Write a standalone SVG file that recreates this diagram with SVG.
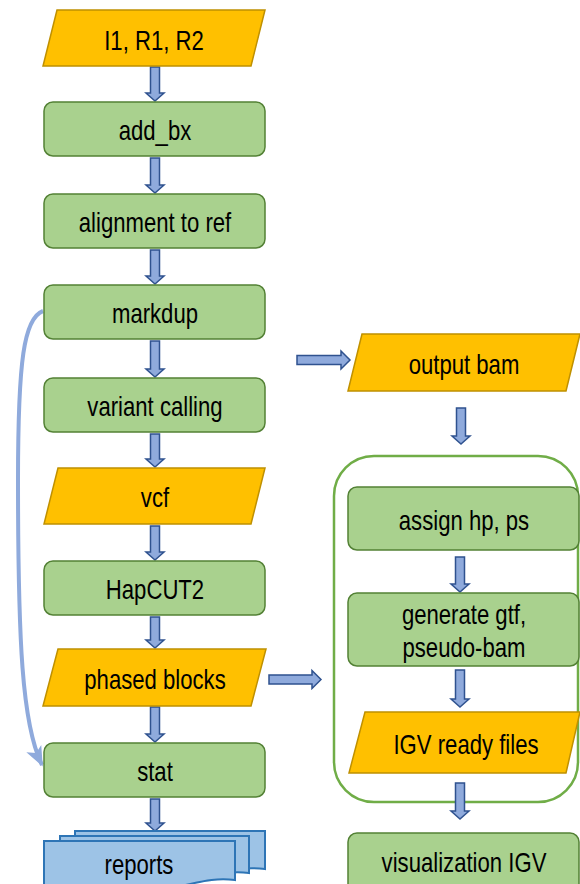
<svg xmlns="http://www.w3.org/2000/svg" width="580" height="884" viewBox="0 0 580 884">
<defs>
<style>
.io{fill:#ffc000;stroke:#bf9000;stroke-width:1.5}
.proc{fill:#a9d18e;stroke:#538135;stroke-width:1.5}
.doc{fill:#9dc3e6;stroke:#2e75b6;stroke-width:2}
.blk{fill:#8faadc;stroke:#2f528f;stroke-width:1.5;stroke-linejoin:miter}
.lbl{font-family:"Liberation Sans",Arial,sans-serif;font-size:27px;fill:#000;text-anchor:middle}
.cont{fill:none;stroke:#70ad47;stroke-width:2.5}
</style>
<marker id="ah" viewBox="0 0 12 10" refX="11" refY="5" markerWidth="5" markerHeight="5" orient="auto" markerUnits="strokeWidth">
<path d="M0,0 L12,5 L0,10 L3,5 Z" fill="#8faadc"/>
</marker>
</defs>
<rect width="580" height="884" fill="#fff"/>

<g id="container"><rect class="cont" x="334" y="456" width="244" height="346" rx="40"/></g>

<g id="connectors">
<path class="blk" d="M150.5,67 H159.5 V93 H164 L155,101 L146,93 H150.5 Z"/>
<path class="blk" d="M150.5,158 H159.5 V185 H164 L155,193 L146,185 H150.5 Z"/>
<path class="blk" d="M150.5,250 H159.5 V276 H164 L155,284 L146,276 H150.5 Z"/>
<path class="blk" d="M150.5,341 H159.5 V369 H164 L155,377 L146,369 H150.5 Z"/>
<path class="blk" d="M150.5,434 H159.5 V459 H164 L155,467 L146,459 H150.5 Z"/>
<path class="blk" d="M150.5,526 H159.5 V552 H164 L155,560 L146,552 H150.5 Z"/>
<path class="blk" d="M150.5,617 H159.5 V640 H164 L155,648 L146,640 H150.5 Z"/>
<path class="blk" d="M150.5,707 H159.5 V734 H164 L155,742 L146,734 H150.5 Z"/>
<path class="blk" d="M150.5,799 H159.5 V823 H164 L155,831 L146,823 H150.5 Z"/>
<path class="blk" d="M297,355.5 H341 V351 L350,360 L341,369 V364.5 H297 Z"/>
<path class="blk" d="M269,675 H312 V670.5 L321,679.5 L312,688.5 V684 H269 Z"/>
<path class="blk" d="M456.5,408 H465.5 V436 H470 L461,444 L452,436 H456.5 Z"/>
<path class="blk" d="M455.5,557 H464.5 V584 H469 L460,592 L451,584 H455.5 Z"/>
<path class="blk" d="M455.5,670 H464.5 V699 H469 L460,707 L451,699 H455.5 Z"/>
<path class="blk" d="M455.5,783 H464.5 V811 H469 L460,819 L451,811 H455.5 Z"/>
<path d="M43,311 C24,318 18,360 18,480 C18,640 22,725 42,765" fill="none" stroke="#8faadc" stroke-width="4" marker-end="url(#ah)"/>
</g>

<g id="n_input"><polygon class="io" points="57,10 265,10 251,66 43,66"/><text class="lbl" transform="translate(154,50) scale(0.82,1)">I1, R1, R2</text></g>
<g id="n_addbx"><rect class="proc" x="44" y="102" width="221" height="54" rx="9"/><text class="lbl" transform="translate(155,140) scale(0.82,1)">add_bx</text></g>
<g id="n_align"><rect class="proc" x="44" y="194" width="221" height="54" rx="9"/><text class="lbl" transform="translate(155,232) scale(0.82,1)">alignment to ref</text></g>
<g id="n_markdup"><rect class="proc" x="44" y="285" width="221" height="54" rx="9"/><text class="lbl" transform="translate(155,323) scale(0.82,1)">markdup</text></g>
<g id="n_variant"><rect class="proc" x="44" y="378" width="221" height="54" rx="9"/><text class="lbl" transform="translate(155,416) scale(0.82,1)">variant calling</text></g>
<g id="n_vcf"><polygon class="io" points="58,468 265,468 251,524 44,524"/><text class="lbl" transform="translate(155,507) scale(0.82,1)">vcf</text></g>
<g id="n_hapcut"><rect class="proc" x="44" y="561" width="221" height="54" rx="9"/><text class="lbl" transform="translate(155,599) scale(0.82,1)">HapCUT2</text></g>
<g id="n_phased"><polygon class="io" points="58,649 266,649 251,706 43,706"/><text class="lbl" transform="translate(155,689) scale(0.82,1)">phased blocks</text></g>
<g id="n_stat"><rect class="proc" x="44" y="743" width="221" height="54" rx="9"/><text class="lbl" transform="translate(155,781) scale(0.82,1)">stat</text></g>
<g id="n_reports">
<path class="doc" d="M75,831 H265 V869 C240,866 225,872 200,876 C170,880 120,872 75,878 Z"/>
<path class="doc" d="M60,836 H249 V873 C225,870 210,877 185,881 C155,885 105,877 60,883 Z"/>
<path class="doc" d="M44,841 H235 V880 C210,877 195,884 170,888 C140,892 90,884 44,890 Z"/>
<text class="lbl" transform="translate(139,874) scale(0.82,1)">reports</text>
</g>

<g id="n_outbam"><polygon class="io" points="362,334 580,334 566,391 348,391"/><text class="lbl" transform="translate(464,374) scale(0.82,1)">output bam</text></g>
<g id="n_assign"><rect class="proc" x="348" y="487" width="231" height="63" rx="9"/><text class="lbl" transform="translate(464,530) scale(0.82,1)">assign hp, ps</text></g>
<g id="n_generate"><rect class="proc" x="348" y="593" width="231" height="73" rx="9"/><text class="lbl" transform="translate(464,624) scale(0.82,1)">generate gtf,</text><text class="lbl" transform="translate(464,657) scale(0.82,1)">pseudo-bam</text></g>
<g id="n_igvfiles"><polygon class="io" points="365,712 580,712 566,773 349,773"/><text class="lbl" transform="translate(466,754) scale(0.82,1)">IGV ready files</text></g>
<g id="n_vis"><rect class="proc" x="348" y="833" width="231" height="62" rx="9"/><text class="lbl" transform="translate(464,872) scale(0.82,1)">visualization IGV</text></g>
</svg>
